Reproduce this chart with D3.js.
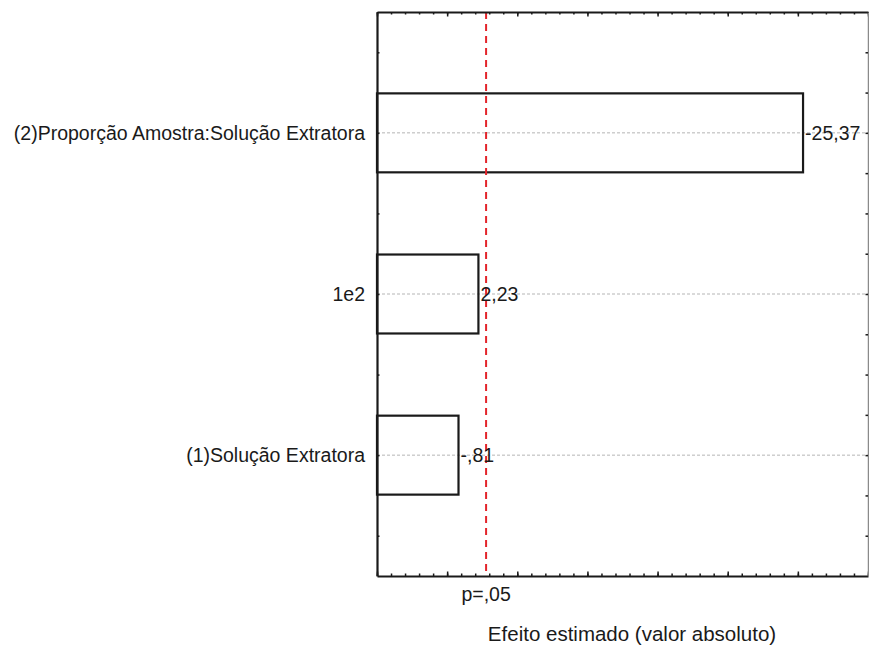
<!DOCTYPE html>
<html>
<head>
<meta charset="utf-8">
<script src="https://cdn.jsdelivr.net/npm/d3@7"></script>
<style>
  html, body { margin: 0; padding: 0; background: #fff; }
  svg { display: block; }
  text { font-family: "Liberation Sans", Arial, sans-serif; fill: #1a1a1a; }
</style>
</head>
<body>
<svg id="chart" width="869" height="645"></svg>
<script>
// Pareto chart of standardized effects
const categories = [
  "(2)Proporção Amostra:Solução Extratora",
  "1e2",
  "(1)Solução Extratora"
];
const effects = [-25.37, 2.23, -0.81];
const pCritical = 2.776;
const pLabel = "p=,05";
const xTitle = "Efeito estimado (valor absoluto)";
const xMajorTicks = [-5, 0, 5, 10, 15, 20, 25, 30];

// Statistica-style number format: hyphen sign, comma decimal, no leading zero
const fmt = v => (v < 0 ? "-" : "") + Math.abs(v).toFixed(2).replace(/^0\./, ".").replace(".", ",");

const svg = d3.select("#chart");
const plotLeft = 377, plotRight = 868, plotTop = 12, plotBottom = 576;

const x = d3.scaleLinear().domain([-5, 30]).range([plotLeft, plotRight]);
const y = d3.scaleLinear().domain([0.25, categories.length + 0.75]).range([plotTop, plotBottom]);
const barHalf = 0.245;

// dotted reference lines at each effect
svg.append("g").selectAll("line").data(categories).join("line")
  .attr("x1", plotLeft).attr("x2", plotRight)
  .attr("y1", (d, i) => y(i + 1)).attr("y2", (d, i) => y(i + 1))
  .attr("stroke", "#b5b5b5").attr("stroke-width", 1)
  .attr("stroke-dasharray", "3,2");

// bars (absolute effect), drawn from the axis minimum
svg.append("g").selectAll("rect").data(effects).join("rect")
  .attr("x", x(-5))
  .attr("y", (d, i) => y(i + 1 - barHalf))
  .attr("width", d => x(Math.abs(d)) - x(-5))
  .attr("height", y(1 + barHalf) - y(1 - barHalf))
  .attr("fill", "none")
  .attr("stroke", "#1a1a1a").attr("stroke-width", 2.2);

// significance threshold
svg.append("line")
  .attr("x1", x(pCritical)).attr("x2", x(pCritical))
  .attr("y1", plotTop).attr("y2", plotBottom)
  .attr("stroke", "#e3242b").attr("stroke-width", 2)
  .attr("stroke-dasharray", "7,5");

// axes with inward ticks
const minorX = d3.range(-5, 31, 1);
const noLabel = () => "";
function styleAxis(g, color, width) {
  g.select(".domain").attr("stroke", color).attr("stroke-width", width);
  g.selectAll(".tick line").attr("stroke", "#1a1a1a").attr("stroke-width", 1.5);
  g.selectAll(".tick text").remove();
}
svg.append("g").attr("transform", `translate(0,${plotBottom})`)
  .call(d3.axisBottom(x).tickValues(minorX).tickSize(-2.5).tickSizeOuter(0).tickFormat(noLabel))
  .call(g => styleAxis(g, "#1a1a1a", 2.2));
svg.append("g").attr("transform", `translate(0,${plotBottom})`)
  .call(d3.axisBottom(x).tickValues(xMajorTicks).tickSize(-4.5).tickSizeOuter(0).tickFormat(noLabel))
  .call(g => styleAxis(g, "none", 0));
svg.append("g").attr("transform", `translate(0,${plotTop})`)
  .call(d3.axisTop(x).tickValues(minorX).tickSize(-2.5).tickSizeOuter(0).tickFormat(noLabel))
  .call(g => styleAxis(g, "#1a1a1a", 2.2));
svg.append("g").attr("transform", `translate(0,${plotTop})`)
  .call(d3.axisTop(x).tickValues(xMajorTicks).tickSize(-4.5).tickSizeOuter(0).tickFormat(noLabel))
  .call(g => styleAxis(g, "none", 0));
svg.append("g").attr("transform", `translate(${plotLeft},0)`)
  .call(d3.axisLeft(y).tickValues(d3.range(0.5, categories.length + 0.75, 0.5)).tickSize(-2.5).tickSizeOuter(0).tickFormat(noLabel))
  .call(g => styleAxis(g, "#1a1a1a", 2.2));
svg.append("g").attr("transform", `translate(${plotRight},0)`)
  .call(d3.axisRight(y).tickValues(d3.range(0.5, categories.length + 0.75, 0.25)).tickSize(-2.5).tickSizeOuter(0).tickFormat(noLabel))
  .call(g => styleAxis(g, "#8a8a8a", 1.5));

// category labels
svg.append("g").selectAll("text").data(categories).join("text")
  .attr("x", plotLeft - 12).attr("y", (d, i) => y(i + 1))
  .attr("dy", "0.35em").attr("text-anchor", "end")
  .style("font-size", "19.5px")
  .text(d => d);

// effect value labels
svg.append("g").selectAll("text").data(effects).join("text")
  .attr("x", d => x(Math.abs(d)) + 2).attr("y", (d, i) => y(i + 1))
  .attr("dy", "0.35em")
  .style("font-size", "19.5px")
  .text(d => fmt(d));

// threshold label and axis title
svg.append("text")
  .attr("x", x(pCritical)).attr("y", 601)
  .attr("text-anchor", "middle").style("font-size", "19.5px")
  .text(pLabel);
svg.append("text")
  .attr("x", 632).attr("y", 641)
  .attr("text-anchor", "middle").style("font-size", "20.5px")
  .text(xTitle);
</script>
</body>
</html>
